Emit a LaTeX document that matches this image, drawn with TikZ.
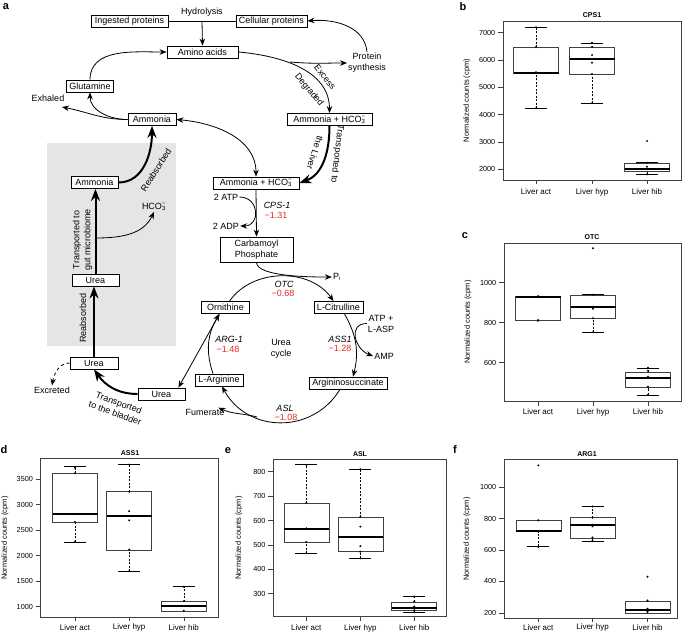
\documentclass[tikz,border=0pt]{standalone}
\usepackage{fontspec}
\setmainfont{Liberation Sans}
\usetikzlibrary{arrows.meta}
\definecolor{vermelho}{RGB}{222,45,38}
\newcommand{\hcotres}{HCO\rlap{\textsubscript{3}}\textsuperscript{−}}
% caixa de um boxplot: x, bigode inferior, q1, mediana, q3, bigode superior
\newcommand{\grafcaixa}[6]{%
  \draw[bigode] (#1,#2) -- (#1,#3) (#1,#5) -- (#1,#6);
  \draw[haste] (#1-11,#2) -- (#1+11,#2) (#1-11,#6) -- (#1+11,#6);
  \draw[quadro, fill=white] (#1-22.5,#3) rectangle (#1+22.5,#5);
  \draw[mediana] (#1-22.5,#4) -- (#1+22.5,#4);
}
\newcommand{\pontos}[2]{\foreach \v in {#2} {\fill (#1,\v) circle (1.1pt);}}

\begin{document}
\begin{tikzpicture}[x=1pt, y=-1pt,
    every node/.style={font=\fontsize{9}{11}\selectfont, inner sep=1pt},
    caixa/.style={draw, fill=white, line width=0.8pt, inner xsep=3pt, inner ysep=1.5pt, minimum height=12pt},
    seta/.style={-{Stealth[length=7pt,width=5.5pt]}, line width=0.8pt},
    setadupla/.style={{Stealth[length=7pt,width=5.5pt]}-{Stealth[length=7pt,width=5.5pt]}, line width=0.8pt},
    setagrossa/.style={-{Stealth[length=12pt,width=9pt]}, line width=2pt},
    enzima/.style={font=\fontsize{9}{11}\selectfont\itshape},
    valor/.style={text=vermelho},
    letra/.style={font=\fontsize{11}{12}\selectfont\bfseries},
    titulo/.style={font=\fontsize{7}{8}\selectfont\bfseries},
    quadro/.style={line width=0.5pt, draw=black!75},
    bigode/.style={line width=0.5pt, dash pattern=on 2pt off 1.5pt},
    haste/.style={line width=0.5pt},
    mediana/.style={line width=2pt},
    rotx/.style={font=\fontsize{8}{9}\selectfont},
    roty/.style={anchor=east, inner xsep=2.5pt, font=\fontsize{7.3}{8}\selectfont},
    eixoy/.style={rotate=90, font=\fontsize{7.5}{8}\selectfont}
  ]
  \useasboundingbox (0,0) rectangle (682,632);

  % Painel a
  \node[letra] at (6,7) {a};
  \fill[black!10] (47,143) rectangle (176,346);

  \node[caixa, minimum width=77pt] (ingeridas) at (129.5,21) {Ingested proteins};
  \node[caixa, minimum width=71pt] (celulares) at (271.5,21) {Cellular proteins};
  \node (hidrolise) at (202,12) {Hydrolysis};
  \node[caixa, minimum width=71pt] (amino) at (202.5,52) {Amino acids};
  \node[align=center] (sintese) at (367,63) {Protein\\synthesis};
  \node[caixa, minimum width=85pt] (bicarb1) at (329.5,119.5) {Ammonia + \hcotres};
  \node[caixa, minimum width=48pt] (amonia) at (152,119.5) {Ammonia};
  \node[caixa, minimum width=46pt] (glutamina) at (90,86) {Glutamine};
  \node (exalado) at (48,98) {Exhaled};
  \node[caixa, minimum width=86pt] (bicarb2) at (256,183) {Ammonia + \hcotres};
  \node[caixa, minimum width=47pt] (amonia2) at (94.5,182.5) {Ammonia};
  \node (hco) at (154,207) {\hcotres};
  \node[caixa, minimum width=47pt] (ureia1) at (95.5,280) {Urea};
  \node[caixa, minimum width=48pt] (ureia2) at (94,363) {Urea};
  \node (excretado) at (52,390) {Excreted};
  \node[caixa, minimum width=47pt] (ureia3) at (161.5,394) {Urea};
  \node (atp) at (226,197) {2 ATP};
  \node (adp) at (226,226) {2 ADP};
  \node[caixa, minimum width=73pt, minimum height=25pt, align=center] (carbamoil) at (256.5,249.5) {Carbamoyl\\Phosphate};
  \node (fosfato) at (337,277) {P\textsubscript{i}};
  \node[caixa, minimum width=48pt] (ornitina) at (225.5,307.5) {Ornithine};
  \node[caixa, minimum width=47pt] (citrulina) at (338.5,307.5) {L-Citrulline};
  \node[caixa, minimum width=48pt] (arginina) at (219,380) {L-Arginine};
  \node[caixa, minimum width=78pt] (succinato) at (348,383) {Argininosuccinate};
  \node[align=center] (atpasp) at (381,323.5) {ATP +\\L-ASP};
  \node (amp) at (384,356) {AMP};
  \node (fumarato) at (205,412) {Fumerate};
  \node[align=center] (ciclo) at (281,349) {Urea\\cycle};

  % enzimas
  \node[enzima] at (277,205) {CPS-1};
  \node[valor] at (276,215) {−1.31};
  \node[enzima] at (284,284) {OTC};
  \node[valor] at (283,293) {−0.68};
  \node[enzima] at (340,339) {ASS1};
  \node[valor] at (340,348) {−1.28};
  \node[enzima] at (229,339) {ARG-1};
  \node[valor] at (228,349) {−1.48};
  \node[enzima] at (285,408) {ASL};
  \node[valor] at (286,417) {−1.08};

  % rotulos inclinados
  \node[rotate=-52] at (325,77) {Excess};
  \node[rotate=-50] at (309,90) {Degraded};
  \node[rotate=-97] at (337,154) {Transported to};
  \node[rotate=-108] at (315,153) {the Liver};
  \node[rotate=58] at (156,170) {Reabsorbed};
  \node[rotate=90] at (77,240) {Transported to};
  \node[rotate=90] at (88,240) {gut microbiome};
  \node[rotate=90] at (83,318) {Reabsorbed};
  \node[rotate=-20, align=center] at (117,408) {Transported\\to the bladder};

  % ligacoes
  \coordinate (hidro) at (202,21);
  \coordinate (ramo) at (290,62);
  \coordinate (exal) at (62,107);
  \coordinate (ramo2) at (95.5,238);
  \coordinate (ramo3) at (257,417);
  \draw[line width=0.8pt] (ingeridas.east) -- (celulares.west);
  \draw[seta] (hidro) -- (amino.north);
  \draw[seta] (sintese.north) to[out=95,in=5] (celulares.east);
  \draw[seta] (amino.east) to[out=-5,in=90] (bicarb1.north);
  \draw[seta] (ramo) to[out=-5,in=180] (sintese.west);
  \draw[setagrossa] (bicarb1.south) to[out=-90,in=20] (bicarb2.east);
  \draw[setadupla] (amonia.east) to[out=-5,in=90] (bicarb2.north);
  \draw[seta] (amonia.west) to[out=180,in=-90] (glutamina.south);
  \draw[seta] (amonia.west) to[out=180,in=-11] (exal);
  \draw[seta] (glutamina.north) to[out=90,in=180] (amino.west);
  \draw[setagrossa] (amonia2.east) to[out=0,in=-90] (amonia.south);
  \draw[setagrossa] (ureia1.north) -- (ureia1.north |- amonia2.south);
  \draw[seta] (ramo2) to[out=0,in=-115] (hco.south);
  \draw[setagrossa] (ureia2.north) -- (ureia2.north |- ureia1.south);
  \draw[seta, dash pattern=on 3pt off 3pt] (ureia2.west) to[out=180,in=80] (excretado.north);
  \draw[setagrossa] (ureia3.west) to[out=180,in=-55] (ureia2.south);
  \draw[setadupla] ([xshift=-7pt]ureia3.north east) -- ([xshift=-6pt]ornitina.south);
  \draw[seta] (bicarb2.south) -- (carbamoil.north);
  \draw[seta] (atp.east) to[out=0,in=0,looseness=1.8] (adp.east);
  \draw[seta] (carbamoil.south) to[out=-90,in=180,looseness=0.5] (fosfato.west);

  % ciclo da ureia
  \draw[seta] ([xshift=4pt]ornitina.north) to[bend left=55] ([xshift=-5pt]citrulina.north);
  \draw[seta] ([xshift=6pt]citrulina.south) to[bend left=22] ([xshift=5pt]succinato.north);
  \draw[seta] (atpasp.west) to[out=180,in=160,looseness=1.5] (amp.west);
  \draw[seta] ([xshift=-8pt]succinato.south) to[bend left=60,looseness=1.15] ([xshift=3pt]arginina.south);
  \draw[seta] (ramo3) to[out=165,in=-25] ([xshift=-7pt]fumarato.north east);
  \draw[seta] ([xshift=-6pt]arginina.north) to[bend left=25] ([xshift=-6pt]ornitina.south);

  % Painel b
  \node[letra] at (463,7) {b};
  \node[titulo] at (592,15.5) {CPS1};
  \draw[quadro] (503,21) rectangle (681.5,180);
  \node[eixoy] at (467,100.5) {Normalized counts (cpm)};
  \foreach \x/\t in {536/Liver act,592/Liver hyp,647/Liver hib}
    {\draw[quadro] (\x,180) -- (\x,184); \node[rotx] at (\x,192) {\t};}
  \begin{scope}[y=0.0273pt, shift={(0pt,-223.8pt)}]
    \foreach \v in {2000,3000,...,7000}
      \draw[quadro] (503,\v) -- (498,\v) node[roty] {\v};
    \grafcaixa{536}{4230}{5510}{5530}{6460}{7200}
    \pontos{536}{7200,6480,5550,4230}
    \grafcaixa{592}{4420}{5490}{6030}{6450}{6630}
    \pontos{592}{6630,6480,6180,5900,5490,4420}
    \grafcaixa{647}{1810}{1930}{2000}{2220}{2240}
    \pontos{647}{3030,2240,2090,2000,1810}
  \end{scope}

  % Painel c
  \node[letra] at (465,236) {c};
  \node[titulo] at (592,237.5) {OTC};
  \draw[quadro] (504,243) rectangle (681.5,401.7);
  \node[eixoy] at (468,322) {Normalized counts (cpm)};
  \foreach \x/\t in {538/Liver act,593/Liver hyp,648/Liver hib}
    {\draw[quadro] (\x,401.7) -- (\x,405.7); \node[rotx] at (\x,412) {\t};}
  \begin{scope}[y=0.2pt, shift={(0pt,-482.7pt)}]
    \foreach \v in {600,800,1000}
      \draw[quadro] (504,\v) -- (499,\v) node[roty] {\v};
    \grafcaixa{538}{810}{813}{927}{930}{933}
    \pontos{538}{933,927,813,810}
    \grafcaixa{593}{752}{822}{877}{937}{940}
    \pontos{593}{1172,940,880,870,822,752}
    \grafcaixa{648}{439}{475}{525}{552}{572}
    \pontos{648}{575,560,530,480,440}
  \end{scope}

  % Painel d
  \node[letra] at (4,450) {d};
  \node[titulo] at (130,453) {ASS1};
  \draw[quadro] (40.7,458.3) rectangle (218.3,617.3);
  \node[eixoy] at (5,538) {Normalized counts (cpm)};
  \foreach \x/\t in {75/Liver act,129.2/Liver hyp,183.8/Liver hib}
    {\draw[quadro] (\x,617.3) -- (\x,621.3); \node[rotx] at (\x,627.7) {\t};}
  \begin{scope}[y=0.0511pt, shift={(0pt,-657.8pt)}]
    \foreach \v in {1000,1500,...,3500}
      \draw[quadro] (40.7,\v) -- (35.7,\v) node[roty] {\v};
    \grafcaixa{75}{2270}{2660}{2808}{3610}{3740}
    \pontos{75}{3720,3610,2820,2660,2270}
    \grafcaixa{129.2}{1697}{2110}{2775}{3250}{3786}
    \pontos{129.2}{3780,3250,2870,2690,2120,1700}
    \grafcaixa{183.8}{903}{903}{1014}{1100}{1392}
    \pontos{183.8}{1390,1110,922}
  \end{scope}

  % Painel e
  \node[letra] at (228,451) {e};
  \node[titulo] at (360,454) {ASL};
  \draw[quadro] (273.3,459) rectangle (446.7,616.7);
  \node[eixoy] at (239,538) {Normalized counts (cpm)};
  \foreach \x/\t in {306.3/Liver act,360.3/Liver hyp,414.2/Liver hib}
    {\draw[quadro] (\x,616.7) -- (\x,620.7); \node[rotx] at (\x,628) {\t};}
  \begin{scope}[y=0.244pt, shift={(0pt,-666.9pt)}]
    \foreach \v in {300,400,...,800}
      \draw[quadro] (273.3,\v) -- (268.3,\v) node[roty] {\v};
    \grafcaixa{306.3}{466}{510}{565}{670}{830}
    \pontos{306.3}{828,672,568,512,466}
    \grafcaixa{360.3}{445}{472}{534}{613}{811}
    \pontos{360.3}{810,615,575,495,472,445}
    \grafcaixa{414.2}{225}{233}{240}{267}{290}
    \pontos{414.2}{288,268,248,238,230}
  \end{scope}

  % Painel f
  \node[letra] at (455,450) {f};
  \node[titulo] at (587,454.5) {ARG1};
  \draw[quadro] (504,459.3) rectangle (677.7,618.3);
  \node[eixoy] at (467,539) {Normalized counts (cpm)};
  \foreach \x/\t in {538.3/Liver act,592.5/Liver hyp,647.5/Liver hib}
    {\draw[quadro] (\x,618.3) -- (\x,622.3); \node[rotx] at (\x,627.3) {\t};}
  \begin{scope}[y=0.1568pt, shift={(0pt,-644.1pt)}]
    \foreach \v in {200,400,...,1000}
      \draw[quadro] (504,\v) -- (499,\v) node[roty] {\v};
    \grafcaixa{538.3}{625}{717}{723}{789}{789}
    \pontos{538.3}{1140,790,720,620}
    \grafcaixa{592.5}{657}{674}{759}{806}{882}
    \pontos{592.5}{878,805,762,752,680,660}
    \grafcaixa{647.5}{200}{200}{217}{272}{272}
    \pontos{647.5}{430,278,225,210,205}
  \end{scope}
\end{tikzpicture}
\end{document}
